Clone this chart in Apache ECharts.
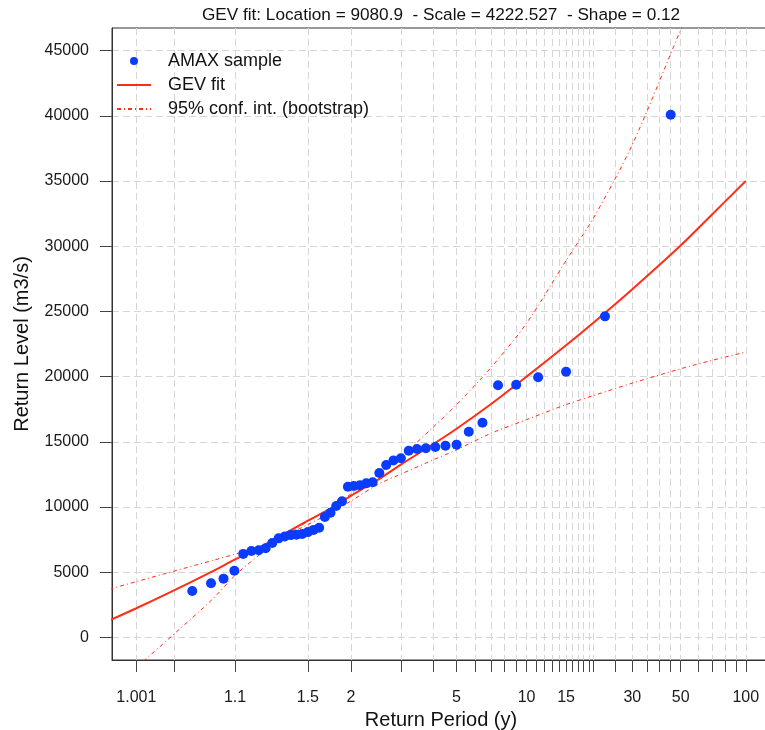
<!DOCTYPE html>
<html>
<head>
<meta charset="utf-8">
<title>GEV fit</title>
<script src="https://cdn.jsdelivr.net/npm/echarts@6.0.0/dist/echarts.min.js"></script>
<style>
html, body { margin: 0; padding: 0; background: #fff; }
#chart { width: 765px; height: 730px; }
</style>
</head>
<body>
<div id="chart"></div>
<script>
// annual maxima, return period (y) of each plotting position and its level (m3/s)
var samplePeriods = [1.023, 1.047, 1.071, 1.098, 1.125, 1.154, 1.184, 1.216, 1.25, 1.286,
	1.324, 1.364, 1.406, 1.452, 1.5, 1.552, 1.607, 1.667, 1.731, 1.8,
	1.875, 1.957, 2.045, 2.143, 2.25, 2.368, 2.5, 2.647, 2.813, 3,
	3.214, 3.462, 3.75, 4.091, 4.5, 5, 5.625, 6.429, 7.5, 9,
	11.25, 15, 22.5, 45];
var sampleLevels = [3550, 4150, 4500, 5100, 6400, 6620, 6680, 6830, 7230, 7590,
	7730, 7840, 7870, 7930, 8070, 8240, 8400, 9230, 9560, 10070,
	10430, 11550, 11610, 11670, 11810, 11900, 12600, 13220, 13570, 13730,
	14310, 14440, 14500, 14600, 14690, 14780, 15770, 16460, 19330, 19380,
	19950, 20370, 24620, 40080];

// fitted curve and bootstrap bounds, read at these return periods
var curvePeriods = [1.0001, 1.001, 1.01, 1.05, 1.1, 1.2, 1.3, 1.5, 1.75, 2,
	2.5, 3, 4, 5, 7, 10, 15, 20, 30, 50, 70, 100];
var fitLevels = [1300, 2230, 3600, 5080, 5980, 7020, 7800, 8950, 9950, 10850,
	12150, 13250, 14800, 16000, 17900, 20000, 22400, 24150, 26700, 30050, 32450, 35000];
var ciFlatLevels = [3700, 4270, 5080, 5900, 6380, 7000, 7650, 8650, 9600, 10450,
	11780, 12520, 13600, 14380, 15650, 16700, 17850, 18550, 19500, 20600, 21250, 21880];
var ciSteepLevels = [-4000, -2300, 250, 2950, 4750, 6500, 7550, 8900, 10000, 11000,
	12600, 13850, 16100, 17850, 20700, 24100, 28900, 32200, 37800, 46600, 52300, 58500];

var tickPeriods = [1.001, 1.01, 1.1, 1.5, 2, 3, 4, 5, 6, 7, 8, 9, 10, 11, 12, 13, 14, 15,
	16, 17, 18, 19, 20, 25, 30, 35, 40, 45, 50, 60, 70, 80, 90, 100];
var labelPeriods = [1.001, 1.1, 1.5, 2, 5, 10, 15, 30, 50, 100];
var levelTicks = [0, 5000, 10000, 15000, 20000, 25000, 30000, 35000, 40000, 45000];

var chartTitle = 'GEV fit: Location = 9080.9  - Scale = 4222.527  - Shape = 0.12';

// the x axis is Gumbel probability paper: position = reduced variate of the period
function gumbel(T) {
	return -Math.log(-Math.log(1 - 1 / T));
}

function toPoints(periods, levels) {
	return periods.map(function (t, i) {
		return [gumbel(t), levels[i]];
	});
}

var font = 'Liberation Sans, Arial, Helvetica, sans-serif',
	red = '#ff2d14',
	gridLine = { show: true, lineStyle: { color: '#d6d6d6', width: 1, type: [7, 4] } },
	ciDash = [4, 3, 1, 3];

var myChart = echarts.init(document.getElementById('chart'), null, { renderer: 'canvas' });

var option = {
	animation: false,
	backgroundColor: '#fff',
	textStyle: { fontFamily: font },
	title: {
		text: chartTitle,
		left: 436,
		top: 2,
		textAlign: 'center',
		textStyle: { fontFamily: font, fontSize: 17.2, fontWeight: 'normal', color: '#111' }
	},
	legend: {
		orient: 'vertical',
		left: 111,
		top: 47,
		itemWidth: 34,
		itemHeight: 8,
		itemGap: 6,
		selectedMode: false,
		// line entries show only their stroke, no marker
		data: [
			{ name: 'AMAX sample' },
			{ name: 'GEV fit', itemStyle: { opacity: 0 } },
			{ name: '95% conf. int. (bootstrap)', itemStyle: { opacity: 0 } }
		],
		textStyle: { fontFamily: font, fontSize: 18, color: '#111', padding: [0, 0, 0, 12] }
	},
	grid: {
		left: 112,
		right: -5,
		top: 28,
		bottom: 70,
		show: true,
		borderColor: '#333',
		borderWidth: 1,
		containLabel: false,
		outerBoundsMode: 'none'
	},
	xAxis: {
		type: 'value',
		min: -2.194,
		max: 4.86,
		name: 'Return Period (y)',
		nameLocation: 'middle',
		nameGap: 46,
		nameTextStyle: { fontFamily: font, fontSize: 20, color: '#111' },
		axisLine: { show: true, onZero: false, lineStyle: { color: '#333' } },
		axisTick: {
			show: true,
			length: 12,
			customValues: tickPeriods.map(gumbel),
			lineStyle: { color: '#444' }
		},
		axisLabel: {
			customValues: labelPeriods.map(gumbel),
			margin: 30,
			fontFamily: font,
			fontSize: 16,
			color: '#1a1a1a',
			formatter: function (v) {
				for (var i = 0; i < labelPeriods.length; i++) {
					if (Math.abs(gumbel(labelPeriods[i]) - v) < 1e-6) {
						return String(labelPeriods[i]);
					}
				}
				return '';
			}
		},
		splitLine: gridLine
	},
	yAxis: {
		type: 'value',
		min: -1740,
		max: 46740,
		name: 'Return Level (m3/s)',
		nameLocation: 'middle',
		nameGap: 80,
		nameTextStyle: { fontFamily: font, fontSize: 20, color: '#111' },
		axisLine: { show: true, onZero: false, lineStyle: { color: '#333' } },
		axisTick: {
			show: true,
			length: 12,
			customValues: levelTicks,
			lineStyle: { color: '#444' }
		},
		axisLabel: {
			customValues: levelTicks,
			margin: 23,
			fontFamily: font,
			fontSize: 16,
			color: '#1a1a1a',
			formatter: function (v) {
				return String(v);
			}
		},
		splitLine: gridLine
	},
	series: [{
		name: 'AMAX sample',
		type: 'scatter',
		z: 5,
		symbol: 'circle',
		symbolSize: 10,
		itemStyle: { color: '#0a3cff', opacity: 1 },
		data: toPoints(samplePeriods, sampleLevels)
	}, {
		name: 'GEV fit',
		type: 'line',
		showSymbol: false,
		symbol: 'none',
		smooth: 0.3,
		clip: true,
		lineStyle: { color: red, width: 2 },
		itemStyle: { color: red },
		data: toPoints(curvePeriods, fitLevels)
	}, {
		name: '95% conf. int. (bootstrap)',
		type: 'line',
		showSymbol: false,
		symbol: 'none',
		smooth: 0.3,
		clip: true,
		lineStyle: { color: red, width: 1, type: ciDash },
		itemStyle: { color: red },
		data: toPoints(curvePeriods, ciFlatLevels)
	}, {
		name: '95% conf. int. (bootstrap)',
		type: 'line',
		showSymbol: false,
		symbol: 'none',
		smooth: 0.3,
		clip: true,
		lineStyle: { color: red, width: 1, type: ciDash },
		itemStyle: { color: red },
		data: toPoints(curvePeriods, ciSteepLevels)
	}]
};

myChart.setOption(option);
</script>
</body>
</html>
